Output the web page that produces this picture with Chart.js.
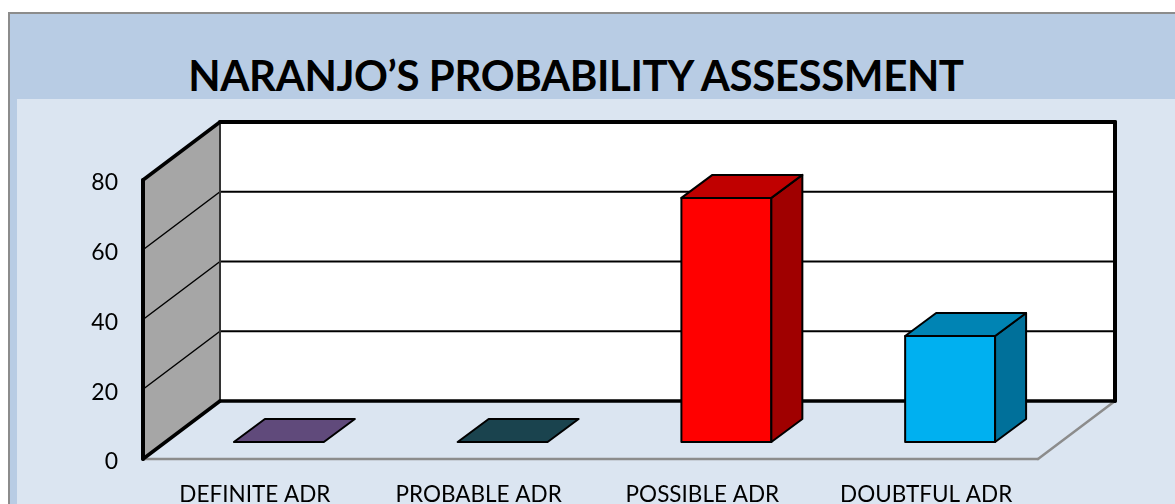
<!DOCTYPE html>
<html>
<head>
<meta charset="utf-8">
<title>Naranjo's probability assessment</title>
<script src="https://cdn.jsdelivr.net/npm/chart.js@4"></script>
<style>
  html, body { margin: 0; padding: 0; background: #fff; overflow: hidden; }
  #wrap { position: relative; width: 1175px; height: 504px; }
  #band { position: absolute; left: 8px; top: 12px; width: 1167px; height: 492px; box-sizing: border-box;
          background: #b8cce4; border-left: 2px solid #8c8c8c; border-top: 2px solid #8c8c8c; }
  #panel { position: absolute; left: 17px; top: 99px; width: 1158px; height: 405px; background: #dbe5f1; }
  #heading { position: absolute; left: 0; top: 50px; width: 1152px; text-align: center; color: #000;
             font: bold 42px/50px Lato, sans-serif; letter-spacing: -0.4px; white-space: nowrap; }
  canvas { position: absolute; left: 0; top: 0; }
</style>
</head>
<body>
<div id="wrap">
  <div id="band"></div>
  <div id="panel"></div>
  <div id="heading">NARANJO’S PROBABILITY ASSESSMENT</div>
  <canvas id="graphique" width="1175" height="504"></canvas>
</div>
<script>
const categories = ["DEFINITE ADR", "PROBABLE ADR", "POSSIBLE ADR", "DOUBTFUL ADR"];
const adrValues = [0, 0, 70, 30.4];
const yTicks = [0, 20, 40, 60, 80];

const frontColors = ["#604a7b", "#1a434e", "#ff0000", "#00b0f0"];
const topColors = ["#604a7b", "#1a434e", "#c00000", "#0084b4"];
const sideColors = ["#4d3b62", "#15363f", "#a00000", "#00709a"];

// 3D offsets in pixels
const wallDepth = { x: 77, y: -58 };
const barShift = { x: 24, y: -17 };
const barDepth = { x: 31, y: -23 };

function poly(ctx, pts, fill, stroke, width) {
  ctx.beginPath();
  pts.forEach((p, i) => i ? ctx.lineTo(p[0], p[1]) : ctx.moveTo(p[0], p[1]));
  ctx.closePath();
  if (fill) { ctx.fillStyle = fill; ctx.fill(); }
  if (stroke) { ctx.strokeStyle = stroke; ctx.lineWidth = width; ctx.stroke(); }
}

function line(ctx, x1, y1, x2, y2, color, width) {
  ctx.beginPath();
  ctx.moveTo(x1, y1);
  ctx.lineTo(x2, y2);
  ctx.strokeStyle = color;
  ctx.lineWidth = width;
  ctx.stroke();
}

// Back wall, left wall and floor
const wallsPlugin = {
  id: 'walls',
  beforeDatasetsDraw(chart) {
    const ctx = chart.ctx;
    const a = chart.chartArea;
    const y = chart.scales.y;
    const dx = wallDepth.x, dy = wallDepth.y;
    ctx.save();
    ctx.lineJoin = 'round';
    ctx.lineCap = 'round';

    // floor edges
    line(ctx, a.left, a.bottom, a.right, a.bottom, '#8c8c8c', 2.5);
    line(ctx, a.right, a.bottom, a.right + dx, a.bottom + dy, '#8c8c8c', 2.5);

    poly(ctx, [[a.left + dx, a.top + dy], [a.right + dx, a.top + dy], [a.right + dx, a.bottom + dy], [a.left + dx, a.bottom + dy]], '#ffffff');
    poly(ctx, [[a.left, a.top], [a.left + dx, a.top + dy], [a.left + dx, a.bottom + dy], [a.left, a.bottom]], '#a6a6a6');

    yTicks.forEach(v => {
      const py = y.getPixelForValue(v);
      if (v !== 0 && v !== 80) {
        line(ctx, a.left, py, a.left + dx, py + dy, '#000', 1.5);
        line(ctx, a.left + dx, py + dy, a.right + dx, py + dy, '#000', 2);
      }
    });

    line(ctx, a.left + dx, a.top + dy, a.left + dx, a.bottom + dy, '#333', 2);
    line(ctx, a.left + dx, a.top + dy, a.right + dx, a.top + dy, '#000', 4);
    line(ctx, a.right + dx, a.top + dy, a.right + dx, a.bottom + dy, '#000', 4);
    line(ctx, a.left + dx, a.bottom + dy, a.right + dx, a.bottom + dy, '#000', 3.5);
    line(ctx, a.left, a.top, a.left + dx, a.top + dy, '#000', 3.5);
    line(ctx, a.left, a.bottom, a.left + dx, a.bottom + dy, '#000', 3.5);
    line(ctx, a.left, a.top, a.left, a.bottom, '#000', 4);
    ctx.restore();
  }
};

// Turn each bar element into a box
const boxPlugin = {
  id: 'boxes',
  afterDatasetsDraw(chart) {
    const ctx = chart.ctx;
    const bars = chart.getDatasetMeta(0).data;
    ctx.save();
    ctx.lineJoin = 'round';
    bars.forEach((bar, i) => {
      const w = bar.width;
      const x1 = bar.x - w / 2 + barShift.x;
      const x2 = x1 + w;
      const top = bar.y + barShift.y;
      const base = bar.base + barShift.y;
      const dx = barDepth.x, dy = barDepth.y;
      if (base - top > 0.5) {
        poly(ctx, [[x1, top], [x2, top], [x2, base], [x1, base]], frontColors[i], '#000', 2);
        poly(ctx, [[x2, top], [x2 + dx, top + dy], [x2 + dx, base + dy], [x2, base]], sideColors[i], '#000', 2);
      }
      poly(ctx, [[x1, top], [x1 + dx, top + dy], [x2 + dx, top + dy], [x2, top]], topColors[i], '#000', 2);
    });
    ctx.restore();
  }
};

const ctx = document.getElementById('graphique').getContext('2d');
new Chart(ctx, {
  type: 'bar',
  data: {
    labels: categories,
    datasets: [{
      data: adrValues,
      backgroundColor: 'rgba(0,0,0,0)',
      borderWidth: 0,
      categoryPercentage: 1,
      barPercentage: 0.402
    }]
  },
  options: {
    responsive: false,
    animation: false,
    layout: { padding: { left: 60, right: 137, top: 180, bottom: 0 } },
    plugins: {
      legend: { display: false },
      tooltip: { enabled: false },
      title: { display: false }
    },
    scales: {
      x: {
        grid: { display: false, drawTicks: false },
        border: { display: false },
        afterFit(scale) { scale.height = 45; },
        ticks: {
          color: '#000',
          font: { family: 'Lato', size: 22.5 },
          padding: 22,
          maxRotation: 0,
          autoSkip: false
        }
      },
      y: {
        min: 0,
        max: 80,
        grid: { display: false, drawTicks: false },
        border: { display: false },
        afterFit(scale) { scale.width = 83; },
        afterBuildTicks(scale) { scale.ticks = yTicks.map(v => ({ value: v })); },
        ticks: {
          color: '#000',
          font: { family: 'Lato', size: 23 },
          padding: 25,
          labelOffset: 3
        }
      }
    }
  },
  plugins: [wallsPlugin, boxPlugin]
});
</script>
</body>
</html>
